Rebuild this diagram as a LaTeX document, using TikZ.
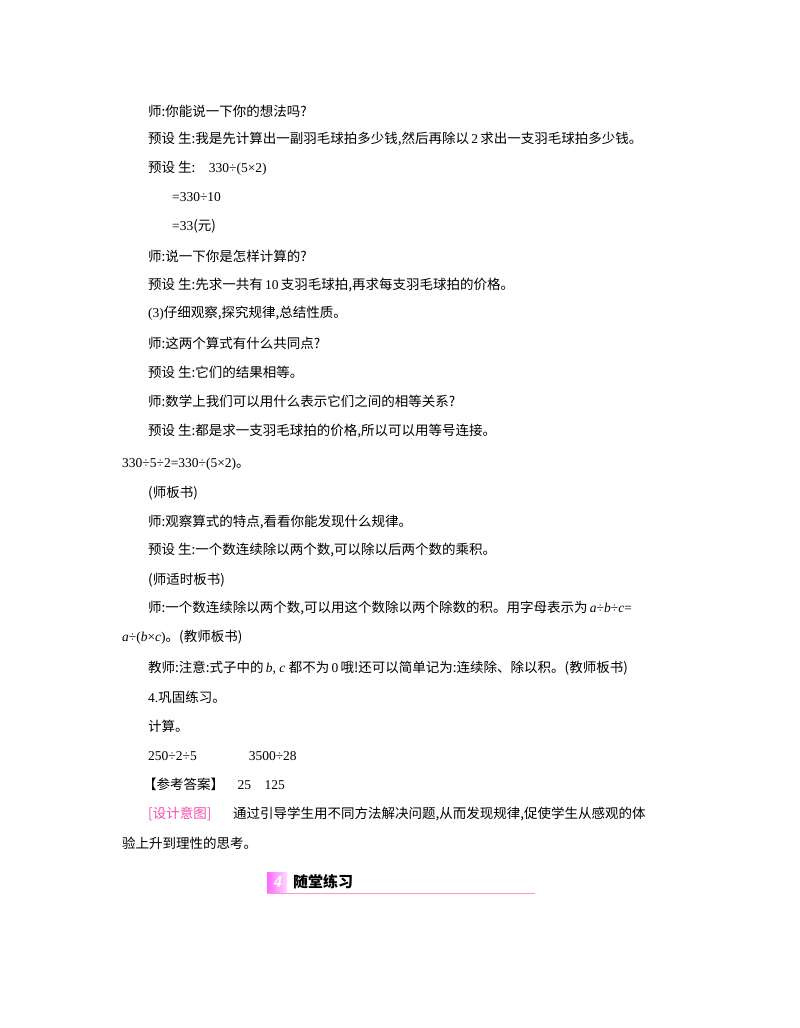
\documentclass[tikz,border=0pt]{standalone}
\usepackage{fontspec}
\newfontfamily\cjk{Noto Sans CJK SC}[Scale=1]
\setmainfont{Liberation Serif}
\begin{document}
\begin{tikzpicture}[x=1pt,y=-1pt,
  tl/.style={anchor=west,inner sep=0pt,font=\fontsize{13.5}{14}\selectfont}]
\useasboundingbox (0,0) rectangle (800,1028);
\newcommand\C{\cjk}
\node[tl] (l1) at (148,111) {\C 师:你能说一下你的想法吗?};
\node[tl] (l2) at (148,139) {\C 预设\ 生:我是先计算出一副羽毛球拍多少钱,然后再除以\,\rmfamily 2\,\C 求出一支羽毛球拍多少钱。};
\node[tl] (l3) at (148,168) {\C 预设\ 生:\rmfamily\quad 330÷(5×2)};
\node[tl] (l4) at (172,197) {\rmfamily =330÷10};
\node[tl] (l5) at (172,226) {\rmfamily =33\C (元)};
\node[tl] (l6) at (148,256) {\C 师:说一下你是怎样计算的?};
\node[tl] (l7) at (148,285) {\C 预设\ 生:先求一共有\,\rmfamily 10\,\C 支羽毛球拍,再求每支羽毛球拍的价格。};
\node[tl] (l8) at (148,313) {\rmfamily (3)\C 仔细观察,探究规律,总结性质。};
\node[tl] (l9) at (148,343) {\C 师:这两个算式有什么共同点?};
\node[tl] (l10) at (148,372) {\C 预设\ 生:它们的结果相等。};
\node[tl] (l11) at (148,401) {\C 师:数学上我们可以用什么表示它们之间的相等关系?};
\node[tl] (l12) at (148,431) {\C 预设\ 生:都是求一支羽毛球拍的价格,所以可以用等号连接。};
\node[tl] (l13) at (122,464) {\rmfamily 330÷5÷2=330÷(5×2)\C 。};
\node[tl] (l14) at (148,493) {\C (师板书)};
\node[tl] (l15) at (148,522) {\C 师:观察算式的特点,看看你能发现什么规律。};
\node[tl] (l16) at (148,550) {\C 预设\ 生:一个数连续除以两个数,可以除以后两个数的乘积。};
\node[tl] (l17) at (148,580) {\C (师适时板书)};
\node[tl] (l18) at (148,608) {\C 师:一个数连续除以两个数,可以用这个数除以两个除数的积。用字母表示为\,\rmfamily\itshape a\upshape÷\itshape b\upshape÷\itshape c\upshape=};
\node[tl] (l19) at (122,637) {\rmfamily\itshape a\upshape÷(\itshape b\upshape×\itshape c\upshape)\C 。(教师板书)};
\node[tl] (l20) at (148,668) {\C 教师:注意:式子中的\,\rmfamily\itshape b, c\upshape\ \C 都不为\,\rmfamily 0\,\C 哦!还可以简单记为:连续除、除以积。(教师板书)};
\node[tl] (l21) at (148,697) {\rmfamily 4.\C 巩固练习。};
\node[tl] (l22) at (148,726) {\C 计算。};
\node[tl] (l23) at (148,756) {\rmfamily 250÷2÷5\hspace{52pt}3500÷28};
\node[tl] (l24) at (143,784) {\C 【参考答案】\rmfamily\quad 25\quad 125};
\node[tl,text=magenta!70] (l25) at (148,814) {\C [设计意图]};
\node[tl] (l26) at (233,814) {\C 通过引导学生用不同方法解决问题,从而发现规律,促使学生从感观的体};
\node[tl] (l27) at (122,843) {\C 验上升到理性的思考。};
\shade[left color=magenta!60, right color=magenta!15] (267,872) rectangle (287,892);
\node[anchor=center,text=white,font=\fontsize{16}{16}\bfseries\itshape\sffamily] (n4) at (277,882) {4};
\node[tl,font=\fontsize{15}{16}\selectfont\bfseries] (h) at (293,882) {\C 随堂练习};
\draw[magenta!40,line width=1pt] (267,893) -- (535,893);
\end{tikzpicture}
\end{document}
